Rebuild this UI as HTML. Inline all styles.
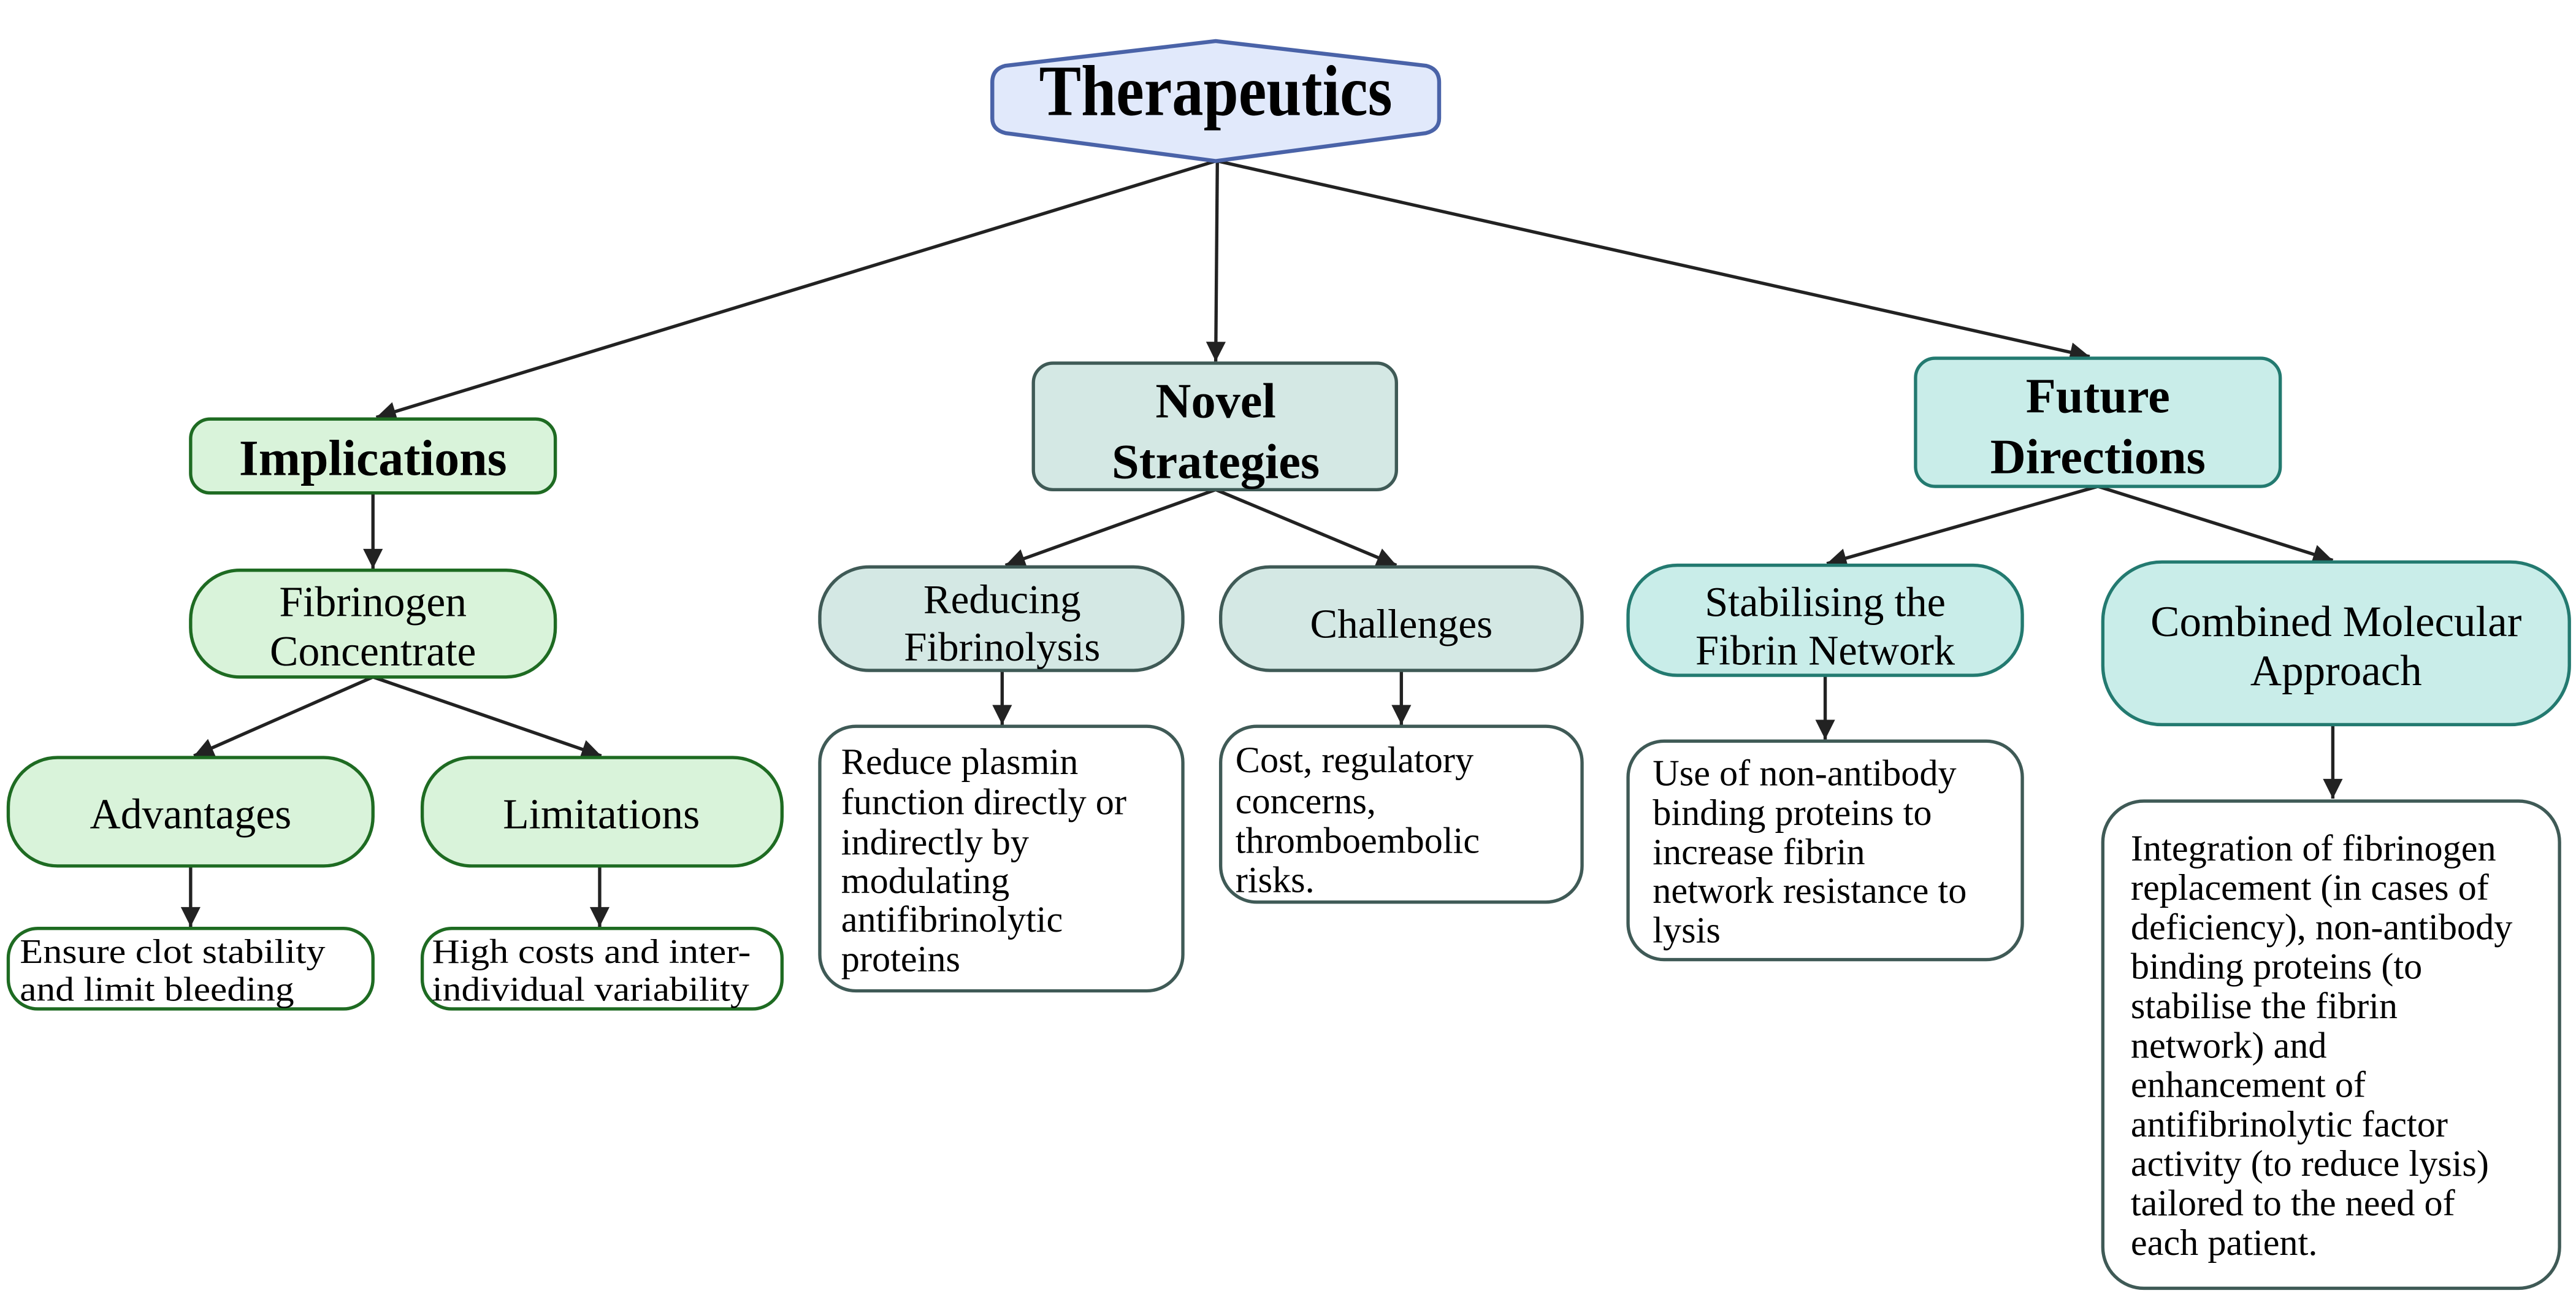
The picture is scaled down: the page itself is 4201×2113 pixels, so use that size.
<!DOCTYPE html>
<html><head><meta charset="utf-8"><style>
html,body{margin:0;padding:0;background:#fff;}
svg{display:block;}
text{font-family:"Liberation Serif",serif;fill:#000;}
.b{font-weight:bold;}
</style></head><body>
<svg width="4201" height="2113" viewBox="0 0 1568 788.7" xmlns="http://www.w3.org/2000/svg">
<defs>
<marker id="ah" viewBox="0 0 10 10" refX="10" refY="5" markerWidth="6.5" markerHeight="6" orient="auto" markerUnits="strokeWidth">
<path d="M0,0 L10,5 L0,10 z" fill="#222"/>
</marker>
</defs>
<rect width="1568" height="789" fill="#fff"/>

<g stroke="#222" stroke-width="2" fill="none" marker-end="url(#ah)">
<line x1="740" y1="98" x2="229" y2="254"/>
<line x1="741" y1="98" x2="740" y2="220"/>
<line x1="741" y1="98" x2="1272" y2="217"/>
<line x1="227" y1="300" x2="227" y2="346"/>
<line x1="227" y1="412" x2="118" y2="460"/>
<line x1="227" y1="412" x2="366" y2="460"/>
<line x1="116" y1="527" x2="116" y2="564"/>
<line x1="365" y1="527" x2="365" y2="564"/>
<line x1="740" y1="298" x2="612" y2="344"/>
<line x1="740" y1="298" x2="850" y2="344"/>
<line x1="610" y1="408" x2="610" y2="441"/>
<line x1="853" y1="408" x2="853" y2="441"/>
<line x1="1277" y1="296" x2="1112" y2="343"/>
<line x1="1277" y1="296" x2="1420" y2="341"/>
<line x1="1111" y1="411" x2="1111" y2="450"/>
<line x1="1420" y1="441" x2="1420" y2="486"/>
</g>

<path d="M740,25 L868,40 Q876,42 876,50 L876,72 Q876,79 868,81 L740,98 L612,81 Q604,79 604,72 L604,50 Q604,42 612,40 Z" fill="#e1e9fb" stroke="#4a63a8" stroke-width="2.4" stroke-linejoin="round"/>
<text class="b" x="740" y="70" font-size="44" text-anchor="middle" textLength="215" lengthAdjust="spacingAndGlyphs">Therapeutics</text>

<rect x="116" y="255" width="222" height="45" rx="12" fill="#d9f3da" stroke="#1e6b22" stroke-width="2"/>
<text class="b" x="227" y="289" font-size="31" text-anchor="middle" textLength="163" lengthAdjust="spacingAndGlyphs">Implications</text>

<rect x="116" y="347" width="222" height="65" rx="30" fill="#d9f3da" stroke="#1e6b22" stroke-width="2"/>
<text x="227" y="375" font-size="26" text-anchor="middle">Fibrinogen</text>
<text x="227" y="405" font-size="26" text-anchor="middle">Concentrate</text>

<rect x="5" y="461" width="222" height="66" rx="30" fill="#d9f3da" stroke="#1e6b22" stroke-width="2"/>
<text x="116" y="504" font-size="26" text-anchor="middle">Advantages</text>
<rect x="257" y="461" width="219" height="66" rx="30" fill="#d9f3da" stroke="#1e6b22" stroke-width="2"/>
<text x="366" y="504" font-size="26" text-anchor="middle">Limitations</text>

<rect x="5" y="565" width="222" height="49" rx="18" fill="#fff" stroke="#1e6b22" stroke-width="2"/>
<text x="12" y="586" font-size="21" textLength="186" lengthAdjust="spacingAndGlyphs">Ensure clot stability</text>
<text x="12" y="609" font-size="21" textLength="167" lengthAdjust="spacingAndGlyphs">and limit bleeding</text>
<rect x="257" y="565" width="219" height="49" rx="18" fill="#fff" stroke="#1e6b22" stroke-width="2"/>
<text x="263" y="586" font-size="21" textLength="194" lengthAdjust="spacingAndGlyphs">High costs and inter-</text>
<text x="263" y="609" font-size="21" textLength="193" lengthAdjust="spacingAndGlyphs">individual variability</text>

<rect x="629" y="221" width="221" height="77" rx="12" fill="#d4e8e4" stroke="#3f5a56" stroke-width="2"/>
<text class="b" x="740" y="254" font-size="30" text-anchor="middle">Novel</text>
<text class="b" x="740" y="291" font-size="30" text-anchor="middle">Strategies</text>

<rect x="499" y="345" width="221" height="63" rx="30" fill="#d4e8e4" stroke="#3f5a56" stroke-width="2"/>
<text x="610" y="373" font-size="25" text-anchor="middle">Reducing</text>
<text x="610" y="402" font-size="25" text-anchor="middle">Fibrinolysis</text>
<rect x="743" y="345" width="220" height="63" rx="30" fill="#d4e8e4" stroke="#3f5a56" stroke-width="2"/>
<text x="853" y="388" font-size="25" text-anchor="middle">Challenges</text>

<rect x="499" y="442" width="221" height="161" rx="22" fill="#fff" stroke="#3f5a56" stroke-width="2"/>
<g font-size="22.5">
<text x="512" y="471">Reduce plasmin</text>
<text x="512" y="495.5">function directly or</text>
<text x="512" y="520">indirectly by</text>
<text x="512" y="543.5">modulating</text>
<text x="512" y="567">antifibrinolytic</text>
<text x="512" y="591">proteins</text>
</g>
<rect x="743" y="442" width="220" height="107" rx="22" fill="#fff" stroke="#3f5a56" stroke-width="2"/>
<g font-size="22.5">
<text x="752" y="470">Cost, regulatory</text>
<text x="752" y="495">concerns,</text>
<text x="752" y="519">thromboembolic</text>
<text x="752" y="543">risks.</text>
</g>

<rect x="1166" y="218" width="222" height="78" rx="12" fill="#c9ede9" stroke="#237a70" stroke-width="2"/>
<text class="b" x="1277" y="251" font-size="30" text-anchor="middle">Future</text>
<text class="b" x="1277" y="288" font-size="30" text-anchor="middle">Directions</text>

<rect x="991" y="344" width="240" height="67" rx="30" fill="#c9ede9" stroke="#237a70" stroke-width="2"/>
<text x="1111" y="375" font-size="25.5" text-anchor="middle">Stabilising the</text>
<text x="1111" y="404.5" font-size="25.5" text-anchor="middle">Fibrin Network</text>
<rect x="1280" y="342" width="284" height="99" rx="36" fill="#c9ede9" stroke="#237a70" stroke-width="2"/>
<text x="1422" y="387" font-size="26.5" text-anchor="middle">Combined Molecular</text>
<text x="1422" y="417" font-size="26.5" text-anchor="middle">Approach</text>

<rect x="991" y="451" width="240" height="133" rx="22" fill="#fff" stroke="#3f5a56" stroke-width="2"/>
<g font-size="22.5">
<text x="1006" y="478">Use of non-antibody</text>
<text x="1006" y="502">binding proteins to</text>
<text x="1006" y="526">increase fibrin</text>
<text x="1006" y="549.5">network resistance to</text>
<text x="1006" y="573.5">lysis</text>
</g>
<rect x="1280" y="487.5" width="278" height="296.5" rx="25" fill="#fff" stroke="#3f5a56" stroke-width="2"/>
<g font-size="22.5">
<text x="1297" y="523.6">Integration of fibrinogen</text>
<text x="1297" y="547.6">replacement (in cases of</text>
<text x="1297" y="571.6">deficiency), non-antibody</text>
<text x="1297" y="595.6">binding proteins (to</text>
<text x="1297" y="619.6">stabilise the fibrin</text>
<text x="1297" y="643.6">network) and</text>
<text x="1297" y="667.6">enhancement of</text>
<text x="1297" y="691.6">antifibrinolytic factor</text>
<text x="1297" y="715.6">activity (to reduce lysis)</text>
<text x="1297" y="739.6">tailored to the need of</text>
<text x="1297" y="763.6">each patient.</text>
</g>
</svg>
</body></html>
